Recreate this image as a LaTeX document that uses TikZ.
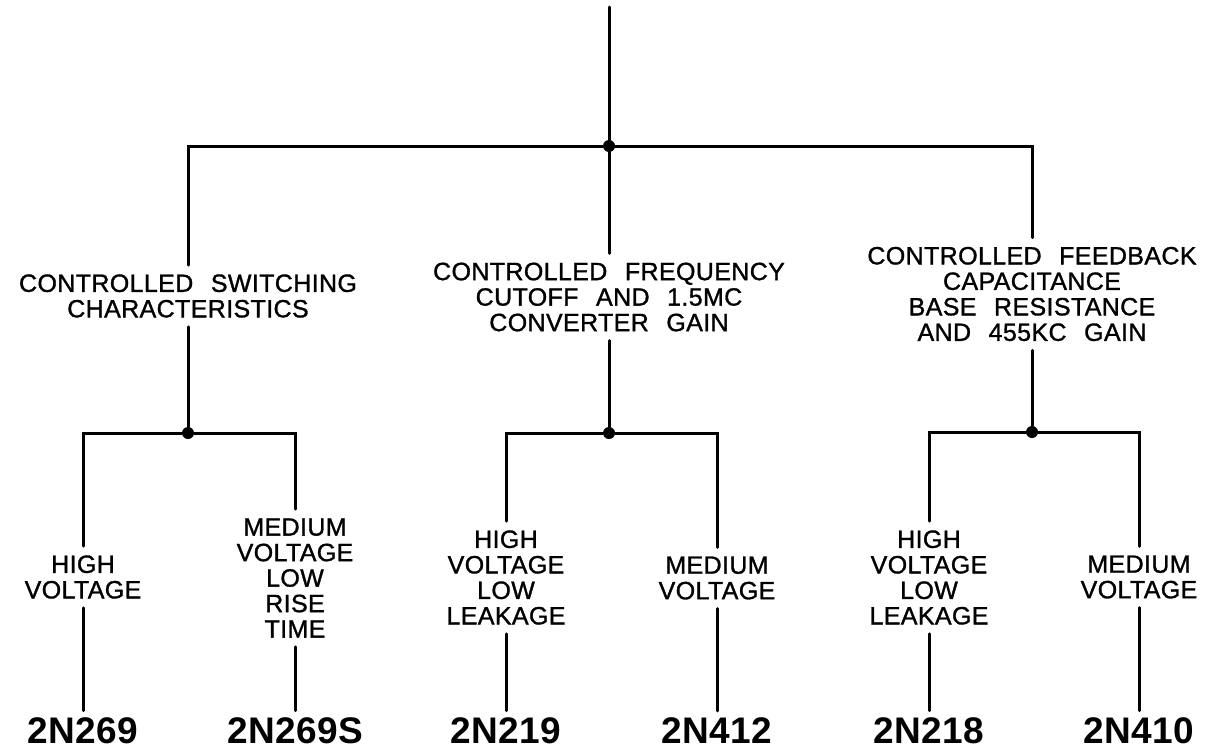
\documentclass[tikz,border=0pt]{standalone}
\usepackage{fontspec}
\setmainfont{Liberation Sans}[LetterSpace=1.5,WordSpace=2.4,FakeBold=1.2]
\newfontfamily\numfont{Liberation Sans}[LetterSpace=1]
\begin{document}
\begin{tikzpicture}[x=1pt,y=-1pt,
  wire/.style={line width=3pt,line cap=round,line join=miter},
  lbl/.style={align=center,inner ysep=9pt,inner xsep=2pt,font=\fontsize{25}{25.5}\selectfont},
  partno/.style={inner sep=7pt,font=\numfont\bfseries\fontsize{37}{40}\selectfont},
  junct/.style={circle,fill=black,inner sep=0pt,minimum size=12pt}]
\useasboundingbox (0,0) rectangle (1212,750);
% junctions
\coordinate (top) at (609,7);
\node[junct] (d0) at (609,146) {};
\node[junct] (dL) at (188,433) {};
\node[junct] (dM) at (609,433) {};
\node[junct] (dR) at (1032,432) {};
% group labels
\node[lbl] (tL) at (188,296) {CONTROLLED SWITCHING\\CHARACTERISTICS};
\node[lbl] (tM) at (609,297) {CONTROLLED FREQUENCY\\CUTOFF AND 1.5MC\\CONVERTER GAIN};
\node[lbl] (tR) at (1032,294) {CONTROLLED FEEDBACK\\CAPACITANCE\\BASE RESISTANCE\\AND 455KC GAIN};
% leaf labels
\node[lbl] (l1) at (83,577) {HIGH\\VOLTAGE};
\node[lbl] (l2) at (295,578) {MEDIUM\\VOLTAGE\\LOW\\RISE\\TIME};
\node[lbl] (l3) at (506,577.5) {HIGH\\VOLTAGE\\LOW\\LEAKAGE};
\node[lbl] (l4) at (717,578) {MEDIUM\\VOLTAGE};
\node[lbl] (l5) at (929,577.5) {HIGH\\VOLTAGE\\LOW\\LEAKAGE};
\node[lbl] (l6) at (1139,577) {MEDIUM\\VOLTAGE};
% part numbers
\node[partno] (n1) at (83,731) {2N269};
\node[partno] (n2) at (295,731) {2N269S};
\node[partno] (n3) at (506,731) {2N219};
\node[partno] (n4) at (717,731) {2N412};
\node[partno] (n5) at (929,731) {2N218};
\node[partno] (n6) at (1139,731) {2N410};
% connectors
\draw[wire] (top) -- (d0);
\draw[wire] (tL) |- (d0) -| (tR);
\draw[wire] (d0) -- (tM);
\draw[wire] (tL) -- (dL);
\draw[wire] (tM) -- (dM);
\draw[wire] (tR) -- (dR);
\draw[wire] (l1) |- (dL) -| (l2);
\draw[wire] (l3) |- (dM) -| (l4);
\draw[wire] (l5) |- (dR) -| (l6);
\draw[wire] (l1) -- (n1);
\draw[wire] (l2) -- (n2);
\draw[wire] (l3) -- (n3);
\draw[wire] (l4) -- (n4);
\draw[wire] (l5) -- (n5);
\draw[wire] (l6) -- (n6);
\end{tikzpicture}
\end{document}
